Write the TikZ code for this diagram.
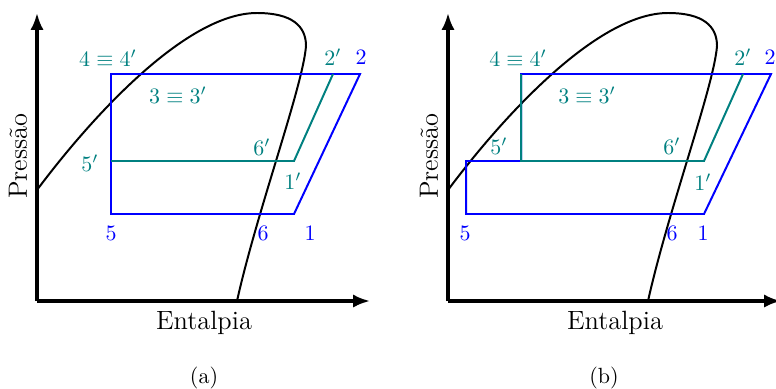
\documentclass[tikz,border=0pt]{standalone}
\usepackage{amsmath}
\usepackage{fontspec}
\usetikzlibrary{arrows.meta}
\definecolor{CBlue}{RGB}{0,0,255}
\definecolor{CTeal}{RGB}{0,128,128}
\tikzset{
    eixo/.style={line width=1.4pt, -{Latex[length=7.7pt, width=6pt]}},
    curva/.style={black, line width=0.9pt},
    ciclo/.style={CBlue, line width=0.9pt, line join=miter},
    ciclolinha/.style={CTeal, line width=0.9pt},
    rotulo/.style={text=CBlue, inner sep=0pt},
    rotulolinha/.style={text=CTeal, inner sep=0pt},
}
\NewDocumentCommand{\Diagrama}{O{(0,0)} m}{
    \begin{scope}[shift={#1}, name prefix=#2-]
    \coordinate (origem) at (0,0);
    \coordinate (ytopo) at (0,288);
    \coordinate (xfim) at (333,0);
    \coordinate (inicio) at (0,111);
    \coordinate (topo) at (220,288);
    \coordinate (nariz) at (269,255);
    \coordinate (fim) at (200,0);
    \draw[eixo] (origem) -- (ytopo);
    \draw[eixo] (origem) -- (xfim);
    \draw[curva] (inicio) .. controls (50,178) and (147,288) .. (topo)
        .. controls (255,288) and (269,275) .. (nariz)
        .. controls (266,215) and (220,90) .. (fim);
    \node[font=\large, rotate=90] (pressao) at (-19,145) {Pressão};
    \node[font=\large] (entalpia) at (167,-22) {Entalpia};
    \end{scope}
}

\begin{document}
\begin{tikzpicture}[x=0.4545pt, y=0.4545pt]
\useasboundingbox (-37,-87) rectangle (739,301);

% (a)
\Diagrama{A}
\coordinate (A-p1) at (257,87);
\coordinate (A-p2) at (323,227);
\coordinate (A-p4) at (74,227);
\coordinate (A-p5) at (74,87);
\coordinate (A-p1l) at (257,140);
\coordinate (A-p2l) at (296,227);
\coordinate (A-p5l) at (74,140);
\draw[ciclo] (A-p5) -- (A-p1) -- (A-p2) -- (A-p4) -- cycle;
\draw[ciclolinha] (A-p5l) -- (A-p1l) -- (A-p2l);

\node[rotulolinha] (A-l4) at (71,243) {$4\equiv4'$};
\node[rotulolinha] (A-l3) at (141,206) {$3\equiv3'$};
\node[rotulolinha] (A-l2l) at (296,244) {$2'$};
\node[rotulo] (A-l2) at (324,244) {$2$};
\node[rotulolinha] (A-l6l) at (225,154) {$6'$};
\node[rotulolinha] (A-l5l) at (53,138) {$5'$};
\node[rotulolinha] (A-l1l) at (256,120) {$1'$};
\node[rotulo] (A-l5) at (74,68) {$5$};
\node[rotulo] (A-l6) at (226,68) {$6$};
\node[rotulo] (A-l1) at (273,68) {$1$};
\node (A-legenda) at (167,-77) {(a)};

% (b)
\Diagrama[(411,0)]{B}
\begin{scope}[shift={(411,0)}, name prefix=B-]
\coordinate (p1) at (256,87);
\coordinate (p2) at (323,227);
\coordinate (p4) at (73,227);
\coordinate (p5) at (18,87);
\coordinate (q) at (18,140);
\coordinate (p1l) at (256,140);
\coordinate (p2l) at (295,227);
\coordinate (p5l) at (73,140);
\draw[ciclo] (p5) -- (p1) -- (p2) -- (p4) -- (p5l) -- (q) -- cycle;
\draw[ciclolinha] (p4) -- (p5l) -- (p1l) -- (p2l);

\node[rotulolinha] (l4) at (70,243) {$4\equiv4'$};
\node[rotulolinha] (l3) at (139,206) {$3\equiv3'$};
\node[rotulolinha] (l2l) at (295,244) {$2'$};
\node[rotulo] (l2) at (322,244) {$2$};
\node[rotulolinha] (l5l) at (51,155) {$5'$};
\node[rotulolinha] (l6l) at (224,155) {$6'$};
\node[rotulolinha] (l1l) at (255,119) {$1'$};
\node[rotulo] (l5) at (17,68) {$5$};
\node[rotulo] (l6) at (224,68) {$6$};
\node[rotulo] (l1) at (255,68) {$1$};
\node (legenda) at (156,-77) {(b)};
\end{scope}
\end{tikzpicture}
\end{document}
